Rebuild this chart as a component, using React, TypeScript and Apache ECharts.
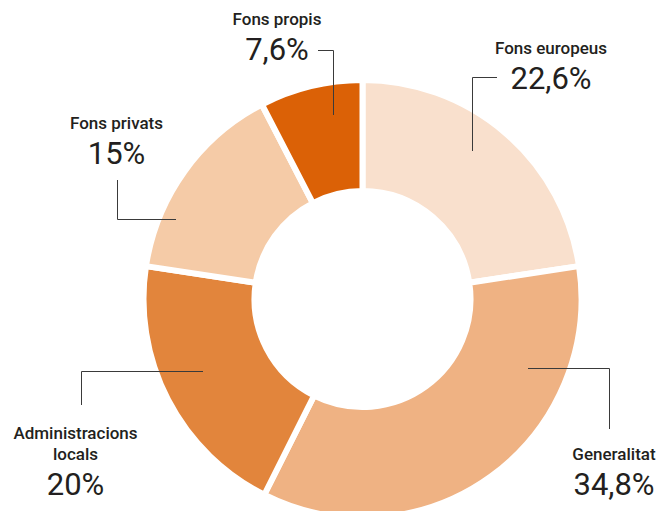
import React, { useEffect, useRef } from "react";
import * as echarts from "echarts";

const categories = ["Fons europeus", "Generalitat", "Administracions\nlocals", "Fons privats", "Fons propis"];
const shares = [22.6, 34.8, 20, 15, 7.6];
const sliceColors = ["#F9E0CD", "#EFB283", "#E2853C", "#F5CBA7", "#DB6106"];

// label anchor (centre x, top y) and leader-line points for each slice
const labelAnchors: [number, number][] = [
  [551, 37.8],
  [614, 443.8],
  [75.5, 422.8],
  [116.5, 112.8],
  [277, 8.8],
];
const leaderLines: [number, number][][] = [
  [[472.5, 151], [472.5, 77.5], [497, 77.5]],
  [[528, 368.5], [609.5, 368.5], [609.5, 429]],
  [[203, 371.5], [81.5, 371.5], [81.5, 405]],
  [[176, 219.5], [117.5, 219.5], [117.5, 180]],
  [[333.5, 115], [333.5, 50.5], [318, 50.5]],
];

const FONT = "Roboto, 'Noto Sans', sans-serif";

export default function App() {
  const ref = useRef<HTMLDivElement>(null);
  useEffect(() => {
    if (!ref.current) return;
    const chart = echarts.init(ref.current, undefined, { renderer: "svg" });
    const data = categories.map((c, i) => ({
      name: c,
      value: shares[i],
      itemStyle: { color: sliceColors[i] },
    }));
    chart.setOption({
      animation: false,
      backgroundColor: "#ffffff",
      series: [
        {
          type: "pie",
          z: 2,
          center: [362.5, 299],
          radius: [108, 219],
          startAngle: 90,
          clockwise: true,
          silent: true,
          data,
          itemStyle: { borderColor: "#ffffff", borderWidth: 6 },
          label: { show: false },
          labelLine: { show: false },
          emphasis: { disabled: true },
        },
        {
          type: "pie",
          z: 5,
          center: [362.5, 299],
          radius: [108, 219],
          startAngle: 90,
          clockwise: true,
          silent: true,
          avoidLabelOverlap: false,
          data: categories.map((c, i) => ({ name: c, value: shares[i] })),
          itemStyle: { color: "rgba(0,0,0,0)", borderWidth: 0 },
          label: {
            show: true,
            position: "outside",
            align: "center",
            formatter: (p: any) =>
              p.name
                .split("\n")
                .map((s: string) => "{n|" + s + "}")
                .join("\n") +
              "\n{v|" + String(p.value).replace(".", ",") + "%}",
            rich: {
              n: { fontFamily: FONT, fontSize: 17, fontWeight: 500, lineHeight: 21, color: "#231f20", align: "center" },
              v: { fontFamily: FONT, fontSize: 31, fontWeight: 400, lineHeight: 40, color: "#231f20", align: "center" },
            },
          },
          labelLine: { show: true, length: 5, length2: 5, lineStyle: { color: "#3a3a3a", width: 1 } },
          labelLayout: (params: any) => {
            const i = params.dataIndex;
            return {
              x: labelAnchors[i][0],
              y: labelAnchors[i][1],
              align: "center",
              verticalAlign: "top",
              labelLinePoints: leaderLines[i],
            };
          },
          emphasis: { disabled: true },
        },
      ],
    });
    return () => chart.dispose();
  }, []);
  return <div ref={ref} style={{ position: "fixed", left: 0, top: 0, width: 671, height: 511 }} />;
}
